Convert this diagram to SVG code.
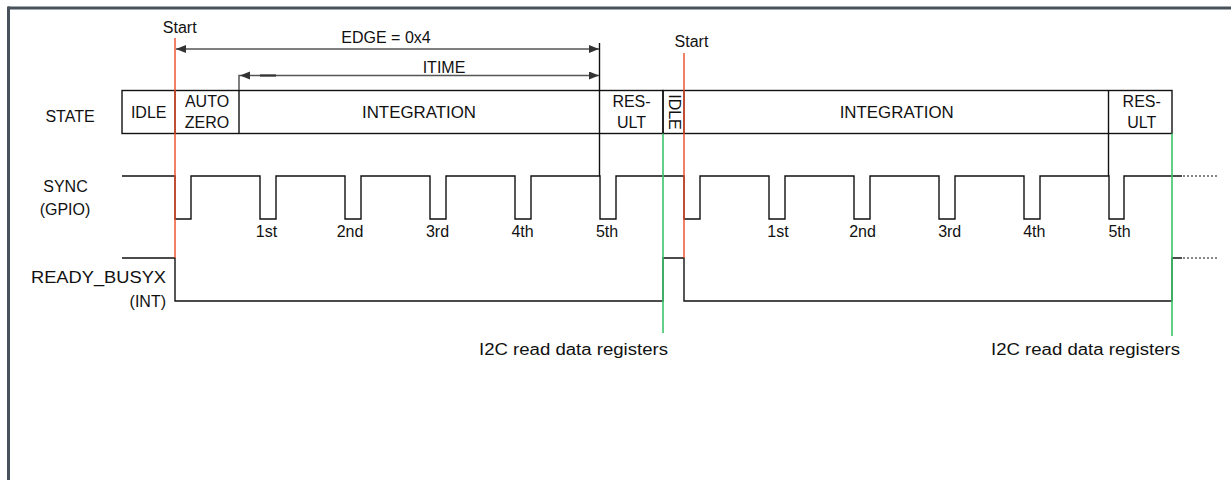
<svg xmlns="http://www.w3.org/2000/svg" width="1231" height="480" viewBox="0 0 1231 480">
<defs>
<style>
text{font-family:"Liberation Sans",Arial,sans-serif;font-size:16px;fill:#111}
.c{text-anchor:middle}
.r{text-anchor:end}
.box{fill:none;stroke:#111;stroke-width:1.4}
.sig{fill:none;stroke:#111;stroke-width:1.4}
.dot{fill:none;stroke:#111;stroke-width:1.2;stroke-dasharray:2 2}
.arr{fill:none;stroke:#555;stroke-width:1.5}
.red{stroke:#ec4a26;stroke-width:1.4}
.grn{stroke:#3cc46c;stroke-width:1.6}
.frame{stroke:#48525c;stroke-width:3}
</style>
<marker id="ah" viewBox="0 0 10 8" refX="10" refY="4" markerWidth="10" markerHeight="8" markerUnits="userSpaceOnUse" orient="auto-start-reverse">
<path d="M0,0 L10,4 L0,8 Z" fill="#333"/>
</marker>
</defs>
<rect x="0" y="0" width="1231" height="480" fill="#fff"/>
<g id="frame">
<line class="frame" x1="8" y1="8" x2="1231" y2="8"/>
<line class="frame" x1="8.5" y1="6.5" x2="8.5" y2="480"/>
</g>
<g id="labels">
<text x="70" y="121.5" class="c">STATE</text>
<text x="65.5" y="192" class="c">SYNC</text>
<text x="65" y="215" class="c">(GPIO)</text>
<text x="166" y="283" class="r" textLength="135" lengthAdjust="spacingAndGlyphs">READY_BUSYX</text>
<text x="166" y="306.5" class="r">(INT)</text>
</g>
<g id="state">
<rect class="box" x="122" y="90.5" width="541" height="43"/>
<rect class="box" x="663" y="90.5" width="509" height="43"/>
<line class="box" x1="175" y1="90.5" x2="175" y2="133.5"/>
<line class="box" x1="239" y1="90.5" x2="239" y2="133.5"/>
<line class="box" x1="684" y1="90.5" x2="684" y2="133.5"/>
<line class="box" x1="1108.5" y1="90.5" x2="1108.5" y2="176"/>
<text x="148.7" y="118.3" class="c">IDLE</text>
<text x="207" y="106.7" class="c">AUTO</text>
<text x="207" y="128.3" class="c">ZERO</text>
<text x="419" y="118.3" class="c" textLength="114" lengthAdjust="spacingAndGlyphs">INTEGRATION</text>
<text x="631.5" y="107" class="c">RES-</text>
<text x="631.5" y="128.3" class="c">ULT</text>
<text transform="translate(668.5,112) rotate(90)" class="c">IDLE</text>
<text x="896.7" y="118.3" class="c" textLength="114" lengthAdjust="spacingAndGlyphs">INTEGRATION</text>
<text x="1141.7" y="106.7" class="c">RES-</text>
<text x="1141.7" y="128.3" class="c">ULT</text>
</g>
<g id="signals">
<path class="sig" d="M122,176 H175 V219 H191 V176 H260 V219 H276 V176 H345 V219 H361 V176 H430 V219 H446 V176 H515 V219 H531 V176 H600 V219 H616 V176 H684 V219 H700 V176 H769 V219 H785 V176 H854 V219 H870 V176 H939 V219 H955 V176 H1024 V219 H1040 V176 H1109 V219 H1124 V176 H1182"/>
<line class="dot" x1="1183" y1="176" x2="1217" y2="176"/>
<path class="sig" d="M122,258 H175 V301 H663 V258 H684 V301 H1172 V258 H1182"/>
<line class="dot" x1="1183" y1="258" x2="1219" y2="258"/>
<text x="266.5" y="237" class="c">1st</text>
<text x="350" y="237" class="c">2nd</text>
<text x="437.5" y="237" class="c">3rd</text>
<text x="522.5" y="237" class="c">4th</text>
<text x="607" y="237" class="c">5th</text>
<text x="778" y="237" class="c">1st</text>
<text x="862.5" y="237" class="c">2nd</text>
<text x="949.7" y="237" class="c">3rd</text>
<text x="1034.3" y="237" class="c">4th</text>
<text x="1119.5" y="237" class="c">5th</text>
</g>
<g id="connectors">
<line class="sig" x1="599.5" y1="43" x2="599.5" y2="176"/>
<line class="arr" x1="176" y1="49" x2="599" y2="49" marker-start="url(#ah)" marker-end="url(#ah)"/>
<path class="arr" d="M239,90 V75.5 H599" marker-end="url(#ah)"/>
<line x1="240" y1="75.5" x2="250" y2="75.5" stroke="#333" stroke-width="0"/>
<polygon points="240,75.5 250,71.5 250,79.5" fill="#333"/>
<line x1="260" y1="75.5" x2="276" y2="75.5" stroke="#333" stroke-width="2.2"/>
<line class="red" x1="175" y1="38" x2="175" y2="258"/>
<line class="red" x1="684" y1="53" x2="684" y2="258"/>
<line class="grn" x1="663" y1="133.5" x2="663" y2="333"/>
<line class="grn" x1="1172" y1="133.5" x2="1172" y2="336"/>
</g>
<g id="annotations">
<text x="179.7" y="33" class="c">Start</text>
<text x="691.5" y="46.5" class="c">Start</text>
<text x="386" y="42.5" class="c">EDGE = 0x4</text>
<text x="444" y="73" class="c">ITIME</text>
<text x="573.5" y="355" class="c" textLength="189" lengthAdjust="spacingAndGlyphs">I2C read data registers</text>
<text x="1085.5" y="355" class="c" textLength="189" lengthAdjust="spacingAndGlyphs">I2C read data registers</text>
</g>
</svg>
